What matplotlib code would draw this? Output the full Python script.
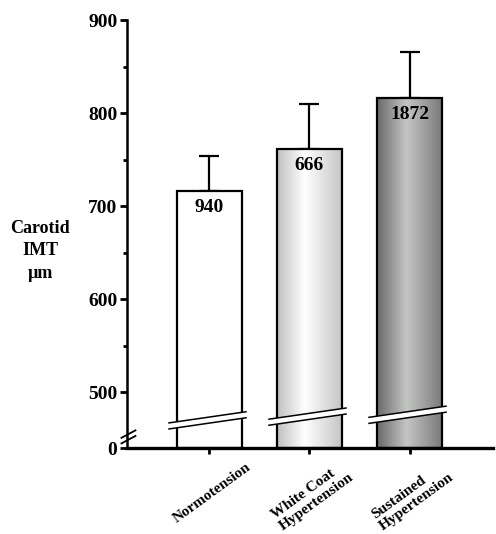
import numpy as np
import matplotlib
matplotlib.use("Agg")
import matplotlib.pyplot as plt
from matplotlib.colors import LinearSegmentedColormap
from matplotlib.patches import Polygon

# data
groups = ["Normotension", "White Coat\nHypertension", "Sustained\nHypertension"]
means = [716, 761, 816]
sd_upper = [38, 49, 50]
counts = ["940", "666", "1872"]
yticks = [440, 500, 600, 700, 800, 900]
yticklabels = ["0", "500", "600", "700", "800", "900"]

plt.rcParams['font.family'] = ['Liberation Serif', 'DejaVu Serif']
plt.rcParams['font.weight'] = 'bold'

fig = plt.figure(figsize=(4.96, 5.34), dpi=100)
ax = fig.add_axes([0.256, 0.161, 0.738, 0.8015])

x = np.arange(len(groups))
width = 0.65
bottom = 440

bars = ax.bar(x, np.array(means) - bottom, width, bottom=bottom, color="white",
              edgecolor="black", linewidth=1.6, zorder=2)

# gradient fills for the hypertension bars
grads = [None,
         LinearSegmentedColormap.from_list("g1", [(0, "#c0c0c0"), (0.42, "#ffffff"), (1, "#c4c4c4")]),
         LinearSegmentedColormap.from_list("g2", [(0, "#6a6a6a"), (0.45, "#c4c6c4"), (1, "#787878")])]
for b, cm in zip(bars, grads):
    if cm is None:
        continue
    x0, w = b.get_x(), b.get_width()
    img = ax.imshow(np.linspace(0, 1, 200).reshape(1, -1), cmap=cm, aspect="auto",
                    extent=(x0, x0 + w, bottom, b.get_y() + b.get_height()), zorder=2.1)
    img.set_clip_path(b)
    b.set_zorder(2.2)
    b.set_facecolor("none")

ax.errorbar(x, means, yerr=[np.zeros(3), sd_upper], fmt="none", ecolor="black",
            elinewidth=1.6, capsize=7, capthick=1.6, zorder=1)

for xi, m, c in zip(x, means, counts):
    ax.text(xi, m - 8, c, ha="center", va="top", fontsize=14, fontweight="bold", zorder=4)

# break marks across bars
for xi, y0 in zip(x, [467, 471, 473]):
    xl, xr = xi - width / 2 - 0.08, xi + width / 2 + 0.04
    yr = y0 + 12
    gap = 6.5
    ax.add_patch(Polygon([(xl, y0), (xr, yr), (xr, yr - gap), (xl, y0 - gap)],
                         closed=True, facecolor="white", edgecolor="none", zorder=3, clip_on=False))
    ax.plot([xl, xr], [y0, yr], color="black", lw=1.1, zorder=3.5, clip_on=False)
    ax.plot([xl, xr], [y0 - gap, yr - gap], color="black", lw=1.1, zorder=3.5, clip_on=False)

ax.set_ylim(440, 900)
ax.set_xlim(-0.825, 2.835)
ax.set_yticks(yticks)
ax.set_yticklabels(yticklabels, fontsize=14, fontweight="bold")
ax.set_yticks([550, 650, 750, 850], minor=True)
ax.set_xticks(x)
ax.set_xticklabels([])
ax.tick_params(axis="y", which="major", length=5, width=2, pad=2)
ax.tick_params(axis="y", which="minor", length=3, width=2)
ax.tick_params(axis="x", length=4, width=2, direction="out")

for s in ["top", "right"]:
    ax.spines[s].set_visible(False)
ax.spines["left"].set_linewidth(1.8)
ax.spines["bottom"].set_linewidth(2.4)

# axis break on y axis
for dy in [0, 6]:
    ax.plot([-0.88, -0.74], [445 + dy, 453 + dy], color="black", lw=1.3, clip_on=False, zorder=5)

for xi, lab in zip(x, groups):
    ax.text(xi + 0.03, 392 if "\n" not in lab else 388, lab, rotation=36, ha="center", va="center",
            fontsize=11, fontweight="bold", multialignment="left", linespacing=1.1, clip_on=False)

fig.text(0.081, 0.53, "Carotid\nIMT\nµm", ha="center", va="center", fontsize=13,
         fontweight="bold", linespacing=1.45)

fig.savefig("out.png", dpi=100)
